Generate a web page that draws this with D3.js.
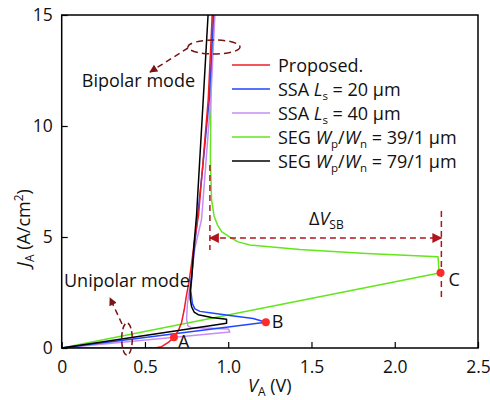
<!DOCTYPE html>
<html><head><meta charset="utf-8">
<script src="https://cdn.jsdelivr.net/npm/d3@7"></script>
<style>body{margin:0;background:#fff}svg{display:block}text{font-family:"Open Sans",sans-serif;fill:#111}</style>
</head><body><svg id="c" width="490" height="400"></svg>
<script>
// ---- data (V in volts, J in A/cm^2) ----
const xTicks = [0, 0.5, 1.0, 1.5, 2.0, 2.5];
const xTickLabels = ["0", "0.5", "1.0", "1.5", "2.0", "2.5"];
const yTicks = [0, 5, 10, 15];
const yTickLabels = ["0", "5", "10", "15"];

const proposed = [[0,0],[0.56,0],[0.6,0.06],[0.64,0.25],[0.674,0.48],[0.7,0.78],[0.72,1.15],[0.735,1.7],[0.75,2.4],[0.765,3.0],[0.78,3.8],[0.795,4.7],[0.822,6.0],[0.85,8.5],[0.88,11.2],[0.904,15]];
const ssa20 = [[0,0],[1.226,1.16],[1.15,1.33],[1.01,1.46],[0.9,1.58],[0.83,1.65],[0.8,1.76],[0.785,2.0],[0.775,2.6],[0.79,4.0],[0.81,5.5],[0.845,8],[0.886,11.2],[0.912,15]];
const ssa40 = [[0,0],[1.01,0.72],[1.0,0.86],[0.9,0.89],[0.78,0.91],[0.758,1.0],[0.75,1.3],[0.755,2.0],[0.77,2.8],[0.8,4.5],[0.84,5.8],[0.895,11.2],[0.92,15]];
const segW39 = [[0,0],[2.275,3.39],[2.265,3.55],[2.26,4.11],[1.83,4.26],[1.43,4.44],[1.13,4.64],[1.06,4.78],[1.01,4.99],[0.96,5.24],[0.935,5.55],[0.915,5.95],[0.9,6.67],[0.893,8.5],[0.896,11.2],[0.905,15]];
const segW79 = [[0,0],[0.99,1.11],[0.99,1.3],[0.9,1.37],[0.82,1.5],[0.795,1.62],[0.78,1.86],[0.772,2.2],[0.772,2.6],[0.782,3.3],[0.795,4.7],[0.81,6.0],[0.85,11.2],[0.879,15]];
const pointsABC = [{label:"A", v:0.674, j:0.48}, {label:"B", v:1.226, j:1.16}, {label:"C", v:2.275, j:3.39}];
const deltaVsb = {v1:0.89, v2:2.28, j:5.0};

const series = [
  {name:"Proposed.", data:proposed, color:"#ee1c24"},
  {name:"SSA L=20", data:ssa20, color:"#2146ff"},
  {name:"SSA L=40", data:ssa40, color:"#c78cf5"},
  {name:"SEG 39", data:segW39, color:"#63e61c"},
  {name:"SEG 79", data:segW79, color:"#000000"}
];

// ---- layout ----
const svg = d3.select("#c");
const L = 61.7, R = 478, T = 15, B = 348;
const x = d3.scaleLinear().domain([0, 2.5]).range([L, R]);
const y = d3.scaleLinear().domain([0, 15]).range([B, T]);
const FS = 18;
const TFS = 17.5;

svg.append("defs").append("clipPath").attr("id","clip")
  .append("rect").attr("x",L).attr("y",T).attr("width",R-L).attr("height",B-T);
const defs = svg.select("defs");
function marker(id, col, w, h){
  defs.append("marker").attr("id",id).attr("viewBox","0 0 10 10").attr("refX",9).attr("refY",5)
    .attr("markerWidth",w).attr("markerHeight",h).attr("markerUnits","userSpaceOnUse").attr("orient","auto-start-reverse")
    .append("path").attr("d","M0,0 L10,5 L0,10 z").attr("fill",col);
}
marker("arrR","#b0151b",16,10);
marker("arrM","#7a1414",10,8);

// curves
const line = d3.line().x(d=>x(d[0])).y(d=>y(d[1]));
const g = svg.append("g").attr("clip-path","url(#clip)");
// draw order: green, purple, blue, red, black
[3,2,1,0,4].forEach(i=>{
  g.append("path").attr("d",line(series[i].data)).attr("fill","none")
    .attr("stroke",series[i].color).attr("stroke-width",1.5).attr("stroke-linejoin","round");
});

// axes frame
svg.append("rect").attr("x",L).attr("y",T).attr("width",R-L).attr("height",B-T)
  .attr("fill","none").attr("stroke","#000").attr("stroke-width",1.5);
const xAxis = d3.axisBottom(x).tickValues(xTicks).tickFormat((d,i)=>xTickLabels[i]).tickSizeInner(-6).tickSizeOuter(0).tickPadding(16);
const yAxis = d3.axisLeft(y).tickValues(yTicks).tickFormat((d,i)=>yTickLabels[i]).tickSizeInner(-6).tickSizeOuter(0).tickPadding(9);
const gx = svg.append("g").attr("transform",`translate(0,${B})`).call(xAxis);
const gy = svg.append("g").attr("transform",`translate(${L},0)`).call(yAxis);
[gx,gy].forEach(a=>{
  a.select(".domain").remove();
  a.selectAll(".tick line").attr("stroke","#000").attr("stroke-width",1.2);
  a.selectAll("text").attr("font-size",TFS).attr("font-family","Open Sans").attr("fill","#111");
});
gx.selectAll("text").attr("dy","0.5em");

// axis titles
const xt = svg.append("text").attr("x",(L+R)/2).attr("y",392).attr("text-anchor","middle").attr("font-size",FS);
xt.append("tspan").attr("font-style","italic").text("V");
xt.append("tspan").attr("font-size",12).attr("dy",4).text("A");
xt.append("tspan").attr("dy",-4).text(" (V)");
const yt = svg.append("text").attr("transform","translate(30,228) rotate(-90)").attr("text-anchor","middle").attr("font-size",FS);
yt.append("tspan").attr("font-style","italic").text("J");
yt.append("tspan").attr("font-size",12).attr("dy",4).text("A");
yt.append("tspan").attr("dy",-4).text(" (A/cm");
yt.append("tspan").attr("font-size",12).attr("dy",-7).text("2");
yt.append("tspan").attr("dy",7).text(")");

// legend
const legRows = [
  [{t:"Proposed."}],
  [{t:"SSA "},{t:"L",i:1},{t:"s",sub:1},{t:" = 20 μm"}],
  [{t:"SSA "},{t:"L",i:1},{t:"s",sub:1},{t:" = 40 μm"}],
  [{t:"SEG "},{t:"W",i:1},{t:"p",sub:1},{t:"/"},{t:"W",i:1},{t:"n",sub:1},{t:" = 39/1 μm"}],
  [{t:"SEG "},{t:"W",i:1},{t:"p",sub:1},{t:"/"},{t:"W",i:1},{t:"n",sub:1},{t:" = 79/1 μm"}]
];
legRows.forEach((row,k)=>{
  const yy = 65 + k*24;
  svg.append("line").attr("x1",232).attr("x2",270).attr("y1",yy).attr("y2",yy)
    .attr("stroke",series[k].color).attr("stroke-width",1.5);
  const t = svg.append("text").attr("x",278).attr("y",yy+6.5).attr("font-size",FS);
  let down=false;
  row.forEach(p=>{
    const s = t.append("tspan").text(p.t);
    if(p.i) s.attr("font-style","italic");
    if(p.sub){ s.attr("font-size",11.5).attr("dy",down?0:4); down=true; }
    else if(down){ s.attr("dy",-4); down=false; }
  });
});

// ΔV_SB annotation
const red = "#b0151b";
svg.append("line").attr("x1",x(deltaVsb.v1)).attr("x2",x(deltaVsb.v1)).attr("y1",165).attr("y2",250)
  .attr("stroke",red).attr("stroke-width",1.5).attr("stroke-dasharray","6,4");
svg.append("line").attr("x1",x(deltaVsb.v2)).attr("x2",x(deltaVsb.v2)).attr("y1",211).attr("y2",298)
  .attr("stroke",red).attr("stroke-width",1.5).attr("stroke-dasharray","6,4");
svg.append("line").attr("x1",x(deltaVsb.v1)).attr("x2",x(deltaVsb.v2)).attr("y1",y(deltaVsb.j)+1).attr("y2",y(deltaVsb.j)+1)
  .attr("stroke",red).attr("stroke-width",1.5).attr("stroke-dasharray","6,4")
  .attr("marker-start","url(#arrR)").attr("marker-end","url(#arrR)");
const dv = svg.append("text").attr("x",309).attr("y",225).attr("font-size",FS);
dv.append("tspan").text("Δ");
dv.append("tspan").attr("font-style","italic").text("V");
dv.append("tspan").attr("font-size",12).attr("dy",4).text("SB");

// bipolar / unipolar annotations
const mar = "#7a1414";
svg.append("ellipse").attr("cx",214).attr("cy",47).attr("rx",26).attr("ry",7)
  .attr("fill","none").attr("stroke",mar).attr("stroke-width",1.5).attr("stroke-dasharray","7,4");
svg.append("line").attr("x1",188).attr("y1",48).attr("x2",150).attr("y2",72)
  .attr("stroke",mar).attr("stroke-width",1.5).attr("stroke-dasharray","6,4").attr("marker-end","url(#arrM)");
svg.append("text").attr("x",195).attr("y",87).attr("text-anchor","end").attr("font-size",FS).text("Bipolar mode");

svg.append("ellipse").attr("cx",127).attr("cy",339).attr("rx",5.3).attr("ry",16)
  .attr("fill","none").attr("stroke",mar).attr("stroke-width",1.5).attr("stroke-dasharray","6,3");
svg.append("line").attr("x1",122).attr("y1",324).attr("x2",110).attr("y2",298)
  .attr("stroke",mar).attr("stroke-width",1.5).attr("stroke-dasharray","6,4").attr("marker-end","url(#arrM)");
svg.append("text").attr("x",64).attr("y",287).attr("font-size",FS).text("Unipolar mode");

// points A B C
const lblOff = {A:[4,11], B:[6,6], C:[8,13]};
pointsABC.forEach(p=>{
  svg.append("circle").attr("cx",x(p.v)).attr("cy",y(p.j)).attr("r",4).attr("fill","#ff2a2a");
  svg.append("text").attr("x",x(p.v)+lblOff[p.label][0]).attr("y",y(p.j)+lblOff[p.label][1]).attr("font-size",FS).text(p.label);
});
</script></body></html>
